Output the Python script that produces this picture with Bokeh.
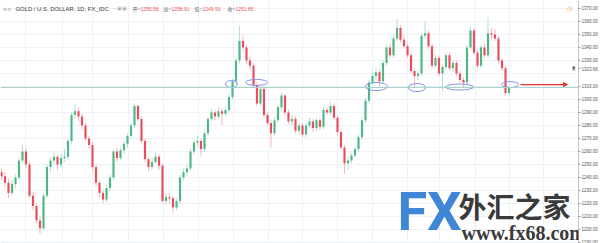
from bokeh.plotting import figure
from bokeh.models import (ColumnDataSource, Range1d, FixedTicker, NumeralTickFormatter,
                          Span, Label, Arrow, NormalHead)
from bokeh.embed import file_html
from bokeh.resources import INLINE

# ---- data: daily GOLD / USD candles ----
opens = [1244, 1241, 1236, 1228, 1235, 1240, 1253, 1260, 1250, 1226,
         1218, 1207, 1201, 1226, 1248, 1253, 1256, 1250, 1255, 1256,
         1268, 1288, 1291, 1287, 1280, 1270, 1265, 1248, 1236, 1228,
         1223, 1232, 1240, 1260, 1255, 1261, 1266, 1272, 1280, 1295,
         1285, 1268, 1254, 1248, 1252, 1256, 1249, 1222, 1225, 1224,
         1217, 1222, 1240, 1244, 1247, 1260, 1267, 1268, 1262, 1274,
         1285, 1290, 1287, 1291, 1289, 1292, 1302, 1314, 1330, 1345,
         1340, 1330, 1326, 1311, 1297, 1308, 1288, 1282, 1274, 1284,
         1294, 1303, 1290, 1283, 1285, 1276, 1280, 1273, 1280, 1283,
         1278, 1284, 1279, 1292, 1290, 1295, 1286, 1275, 1263, 1251,
         1253, 1257, 1262, 1271, 1284, 1299, 1313, 1318, 1321, 1314,
         1328, 1340, 1334, 1347, 1355, 1346, 1341, 1334, 1322, 1318,
         1320, 1349, 1351, 1341, 1326, 1332, 1320, 1325, 1334, 1324,
         1328, 1320, 1315, 1313, 1340, 1353, 1336, 1326, 1340, 1334,
         1351, 1350, 1347, 1330, 1324, 1305]
highs = [1247, 1244, 1239, 1238, 1242, 1255, 1265, 1262, 1252, 1229,
         1220, 1210, 1228, 1250, 1256, 1260, 1258, 1258, 1262, 1270,
         1290, 1297, 1294, 1289, 1282, 1272, 1267, 1250, 1238, 1230,
         1234, 1242, 1262, 1263, 1263, 1268, 1274, 1282, 1297, 1296,
         1287, 1270, 1256, 1255, 1259, 1258, 1251, 1228, 1228, 1226,
         1224, 1242, 1247, 1250, 1262, 1269, 1272, 1270, 1276, 1287,
         1293, 1292, 1294, 1293, 1294, 1304, 1316, 1332, 1357, 1349,
         1342, 1333, 1328, 1313, 1310, 1310, 1290, 1284, 1286, 1296,
         1305, 1304, 1292, 1288, 1287, 1282, 1282, 1282, 1286, 1285,
         1286, 1286, 1294, 1294, 1298, 1297, 1288, 1277, 1265, 1256,
         1259, 1264, 1273, 1286, 1301, 1315, 1322, 1324, 1323, 1330,
         1342, 1343, 1349, 1362, 1357, 1349, 1343, 1336, 1324, 1322,
         1351, 1360, 1353, 1343, 1334, 1334, 1327, 1336, 1336, 1330,
         1330, 1322, 1317, 1342, 1356, 1355, 1338, 1342, 1343, 1363,
         1355, 1354, 1349, 1332, 1326, 1311]
lows = [1238, 1233, 1224, 1226, 1232, 1238, 1251, 1247, 1224, 1215,
        1205, 1197, 1199, 1224, 1244, 1250, 1246, 1248, 1252, 1254,
        1266, 1285, 1283, 1277, 1268, 1262, 1245, 1233, 1225, 1220,
        1221, 1229, 1238, 1252, 1253, 1258, 1263, 1270, 1278, 1283,
        1266, 1252, 1245, 1246, 1250, 1246, 1220, 1219, 1220, 1213,
        1215, 1220, 1238, 1241, 1245, 1258, 1264, 1257, 1260, 1272,
        1283, 1284, 1285, 1280, 1287, 1290, 1300, 1312, 1328, 1337,
        1327, 1323, 1309, 1295, 1295, 1286, 1280, 1263, 1272, 1282,
        1292, 1288, 1281, 1280, 1274, 1273, 1271, 1271, 1278, 1275,
        1276, 1277, 1277, 1288, 1288, 1284, 1273, 1261, 1243, 1246,
        1251, 1255, 1260, 1269, 1282, 1297, 1311, 1315, 1310, 1312,
        1326, 1332, 1332, 1345, 1344, 1339, 1332, 1320, 1309, 1315,
        1318, 1347, 1339, 1324, 1324, 1318, 1306, 1323, 1322, 1321,
        1318, 1313, 1309, 1311, 1338, 1334, 1324, 1324, 1332, 1332,
        1346, 1345, 1328, 1322, 1303, 1304]
closes = [1241, 1236, 1228, 1235, 1240, 1253, 1260, 1250, 1226, 1218,
          1207, 1201, 1226, 1248, 1253, 1256, 1250, 1255, 1256, 1268,
          1288, 1291, 1287, 1280, 1270, 1265, 1248, 1236, 1228, 1223,
          1232, 1240, 1260, 1255, 1261, 1266, 1272, 1280, 1295, 1285,
          1268, 1254, 1248, 1252, 1256, 1249, 1222, 1225, 1224, 1217,
          1222, 1240, 1244, 1247, 1260, 1267, 1268, 1262, 1274, 1285,
          1290, 1287, 1291, 1289, 1292, 1302, 1314, 1330, 1345, 1340,
          1330, 1326, 1311, 1297, 1308, 1288, 1282, 1274, 1284, 1294,
          1303, 1290, 1283, 1285, 1276, 1280, 1273, 1280, 1283, 1278,
          1284, 1279, 1292, 1290, 1295, 1286, 1275, 1263, 1251, 1253,
          1257, 1262, 1271, 1284, 1299, 1313, 1318, 1321, 1314, 1328,
          1340, 1334, 1347, 1355, 1346, 1341, 1334, 1322, 1318, 1320,
          1349, 1351, 1341, 1326, 1332, 1320, 1325, 1334, 1324, 1328,
          1320, 1315, 1313, 1340, 1353, 1336, 1326, 1340, 1334, 1351,
          1350, 1347, 1330, 1324, 1305, 1309]

grid_prices = [1190, 1200, 1210, 1220, 1230, 1240, 1250, 1260, 1270, 1280,
               1290, 1300, 1310, 1320, 1330, 1340, 1350, 1360, 1370]
last_price = 1323.66
axis_prices = [1190, 1200, 1210, 1220, 1230, 1240, 1250, 1260, 1270, 1280,
               1290, 1300, 1310, last_price, 1330, 1340, 1350, 1360, 1370]
time_grid = [6.9, 17.4, 26, 36.3, 46.3, 56.3, 66.3, 76.3, 86, 96,
             106, 116, 125, 135.4, 145.1, 154.9]

support_level = 1309.2
ell_x = [65.7, 72.9, 107.1, 118.7, 130.9, 145.3]
ell_y = [1311.9, 1313.1, 1310.0, 1309.2, 1309.6, 1311.5]
ell_w = [3.4, 6.3, 6.3, 4.9, 8.0, 4.9]
ell_h = [5.4, 4.6, 6.2, 6.2, 4.6, 4.6]
arrow_x = [148.3, 161.7]
arrow_level = 1311.5

symbol_title = "GOLD / U.S. DOLLAR, 1D, FX_IDC"
ohlc_names = ["开=", "高=", "低=", "收="]
ohlc_values = ["1255.58", "1258.91", "1249.93", "1251.85"]

UP, DOWN = "#4fb785", "#eb4d5c"
UP_WICK, DOWN_WICK = "#b3e0c9", "#f6b3b9"

idx = list(range(len(closes)))
is_up = [c >= o for o, c in zip(opens, closes)]
src = ColumnDataSource(dict(
    x=idx, open=opens, high=highs, low=lows, close=closes,
    top=[max(o, c) for o, c in zip(opens, closes)],
    bottom=[min(o, c) for o, c in zip(opens, closes)],
    body=[UP if u else DOWN for u in is_up],
    wick=[UP_WICK if u else DOWN_WICK for u in is_up],
))

p = figure(width=600, height=243, output_backend="svg", toolbar_location=None,
           x_range=Range1d(-0.286, 164.857), y_range=Range1d(1189.23, 1376.15),
           x_axis_location=None, y_axis_location="right",
           min_border=0, min_border_right=22)
p.outline_line_color = None
p.background_fill_color = "white"
p.border_fill_color = "white"

p.xgrid.ticker = FixedTicker(ticks=time_grid)
p.xgrid.grid_line_color = "#eef1f5"
p.ygrid.ticker = FixedTicker(ticks=grid_prices)
p.ygrid.grid_line_color = "#eef1f5"

ax = p.yaxis[0]
ax.ticker = FixedTicker(ticks=axis_prices)
ax.formatter = NumeralTickFormatter(format="0.00")
ax.major_label_text_font = "Liberation Sans"
ax.major_label_text_font_size = "4.5px"
ax.major_label_text_color = "#555555"
ax.major_label_standoff = 1
ax.major_tick_out = 2
ax.major_tick_in = 0
ax.minor_tick_out = 0
ax.minor_tick_in = 0
ax.axis_line_color = "#c4c4c4"
ax.major_tick_line_color = "#9a9a9a"

p.add_layout(Span(location=support_level, dimension="width",
                  line_color="#a9d2cc", line_width=1))

p.segment(x0="x", y0="low", x1="x", y1="high", line_color="wick", line_width=1, source=src)
p.vbar(x="x", width=0.62, top="top", bottom="bottom", fill_color="body",
       line_color=None, source=src)

p.ellipse(x=ell_x, y=ell_y, width=ell_w, height=ell_h, fill_color=None,
          line_color="#7e97e8", line_width=1)

p.add_layout(Arrow(end=NormalHead(size=4, fill_color="#e8322e", line_color="#e8322e"),
                   x_start=arrow_x[0], y_start=arrow_level,
                   x_end=arrow_x[1], y_end=arrow_level,
                   line_color="#e8322e", line_width=1.2))

def lab(x, y, text, **kw):
    args = dict(x=x, y=243 - y, x_units="screen", y_units="screen", text=text,
                text_baseline="middle", text_align="left", level="overlay")
    args.update(kw)
    p.add_layout(Label(**args))

# header
lab(2, 8, "⊖ ≡", text_font_size="5px", text_color="#9a9a9a")
lab(15, 8, symbol_title, text_font="Liberation Sans", text_font_size="5.9px",
    text_color="#3a3a3a")
lab(113, 8, "−  ▣▣", text_font_size="4.5px", text_color="#b0b0b0")
name_x = [132, 163, 194, 227]
val_x = [140, 171, 202, 235]
for nx, vx, n, v in zip(name_x, val_x, ohlc_names, ohlc_values):
    lab(nx, 8, n, text_font="Noto Sans CJK SC", text_font_size="5px",
        text_color="#666666")
    lab(vx, 8, v, text_font="Liberation Sans", text_font_size="5px",
        text_color="#ef5350")

# top-right icon
lab(566, 8, "◷", text_font="DejaVu Sans", text_font_size="7px", text_color="#f4a25a")

# crosshair "+" button beside the last-price label
lab(572, 68, "+", text_font_size="4.5px", text_color="white",
    background_fill_color="#5a5a5a", padding=0)

# watermark (kept inside the plot frame)
lab(397, 211, "FX", text_font="Roboto", text_font_size="54px",
    text_font_style="bold", text_color="#3f86d6")
lab(458, 205, "外汇之家", text_font="Noto Sans CJK SC", text_font_size="28px",
    text_font_style="bold", text_color="#3a3a3a")
lab(461, 232, "www.fx68.com", text_font="Liberation Serif", text_font_size="20px",
    text_font_style="bold", text_color="#3a3a3a")

open("out.html", "w").write(file_html(p, INLINE))
